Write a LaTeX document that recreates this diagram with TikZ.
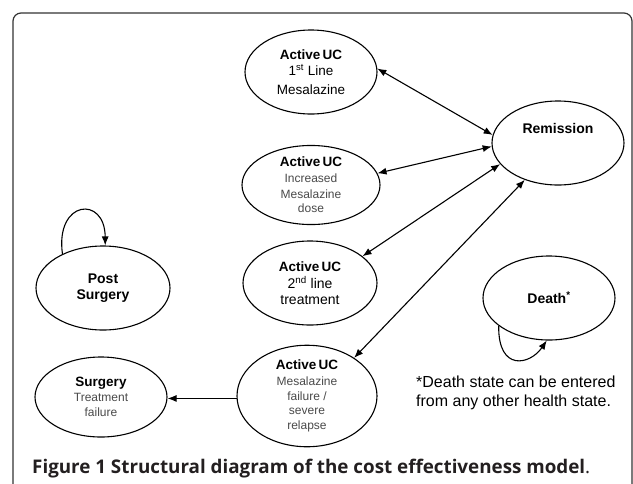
\documentclass[tikz,border=0pt]{standalone}
\usepackage{fontspec}
\setmainfont{Liberation Sans}
\newfontfamily\capfont{Open Sans}
\usetikzlibrary{arrows.meta,shapes.geometric}
\definecolor{framecol}{HTML}{333333}
\definecolor{softgray}{HTML}{4A4A4A}
\definecolor{capcol}{HTML}{231F20}
\newcommand{\fs}[2]{\fontsize{#1}{#2}\selectfont}
\tikzset{
  state/.style={draw, ellipse, line width=1.1pt, inner sep=0pt, align=center},
  conn/.style={line width=1.1pt, {Latex[length=9pt,width=7pt]}-{Latex[length=9pt,width=7pt]}},
  oneway/.style={line width=1.1pt, -{Latex[length=9pt,width=7pt]}},
}
\begin{document}
\begin{tikzpicture}[x=1pt,y=-1pt]
\useasboundingbox (0,0) rectangle (633,483);
\clip (0,0) rectangle (633,483);
\fill[white] (0,0) rectangle (633,483);
\draw[framecol, line width=1.2pt, rounded corners=8pt] (13,530) -- (13,13) -- (632,13) -- (632,530);

\node[state, minimum width=132pt, minimum height=84pt] (n1) at (311,72)
  {\fs{13.5}{13}\bfseries Active\hspace{2pt}UC\\[4.5pt] \fs{13.5}{13}1\textsuperscript{st} Line\\[7pt] \fs{13.5}{13}Mesalazine};
\node[state, minimum width=138pt, minimum height=70pt] (n2) at (311,185)
  {\fs{13.5}{13}\bfseries Active\hspace{2pt}UC\\[4pt] \fs{12}{12}\color{softgray}Increased\\[4pt] \fs{12}{12}\color{softgray}Mesalazine\\[2pt] \fs{12}{12}\color{softgray}dose};
\node[state, minimum width=134pt, minimum height=84pt] (n3) at (310,283)
  {\fs{13.5}{13}\bfseries Active\hspace{2pt}UC\\[4pt] \fs{14}{13}2\textsuperscript{nd} line\\[3.5pt] \fs{14}{13}treatment};
\node[state, minimum width=140pt, minimum height=94pt] (n4) at (307,396)
  {\fs{13.5}{13}\bfseries Active\hspace{2pt}UC\\[3.5pt] \fs{12}{12}\color{softgray}Mesalazine\\[3pt] \fs{12}{12}\color{softgray}failure /\\[2pt] \fs{12}{12}\color{softgray}severe\\[3pt] \fs{12}{12}\color{softgray}relapse};
\node[state, minimum width=132pt, minimum height=80pt] (surg) at (101,397)
  {\fs{13.5}{13}\bfseries Surgery\\[2.5pt] \fs{12}{12}\color{softgray}Treatment\\[3.5pt] \fs{12}{12}\color{softgray}failure};
\node[state, minimum width=134pt, minimum height=84pt] (post) at (103,288)
  {\fs{14}{14}\bfseries Post\\[3.5pt] \fs{14}{14}\bfseries Surgery};
\node[state, minimum width=132pt, minimum height=84pt] (rem) at (558,143) {};
\node[font=\fs{14}{17}\bfseries] (remtxt) at (558,128) {Remission};
\node[state, minimum width=132pt, minimum height=84pt] (death) at (549,298)
  {\fs{14}{17}\bfseries Death\textsuperscript{*}};

\draw[conn] (n1.3) -- (rem.173);
\draw[conn] (n2.10) -- (rem.183);
\draw[conn] (n3.27) -- (rem.200);
\draw[conn] (n4.39) -- (rem.228);
\draw[oneway] (n4.182) -- (n4.182 -| surg.east);

\draw[oneway] (post.140) .. controls (55,200) and (105,195) .. (post.87);
\draw[oneway] (death.209) .. controls (498,372) and (530,365) .. (death.267);

\node[anchor=north west, inner sep=0pt, align=left, font=\fs{16}{18.5}] (note) at (416,376)
  {*Death state can be entered\\ from any other health state.};

\node[anchor=base west, inner sep=0pt, text=capcol] (cap) at (32,473)
  {\capfont\fs{18.8}{20}\bfseries Figure 1 Structural diagram of the cost effectiveness model\mdseries.};
\end{tikzpicture}
\end{document}
